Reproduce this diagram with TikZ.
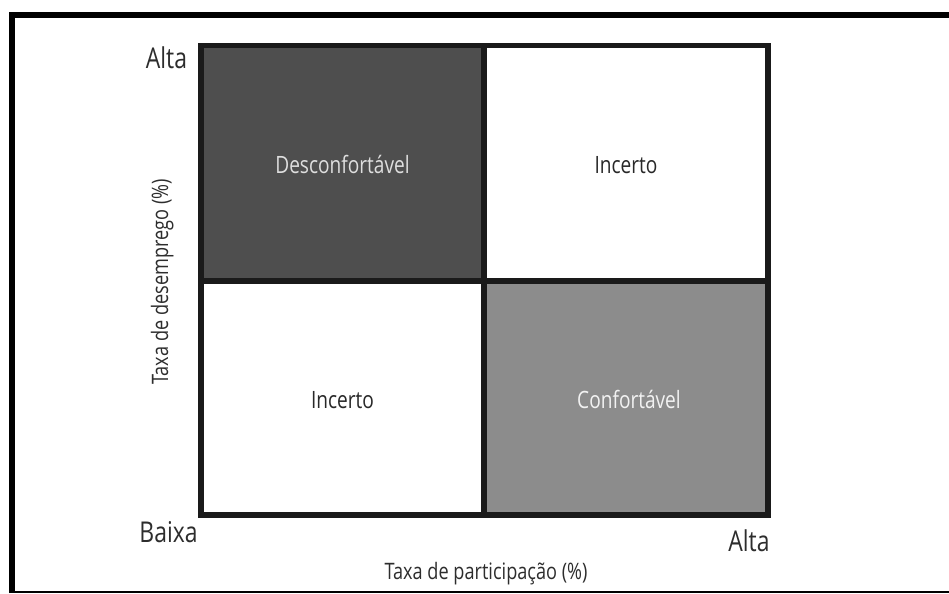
\documentclass[tikz,border=0pt]{standalone}
\usepackage{fontspec}
\setmainfont[FakeStretch=0.8]{Open Sans}
\definecolor{gridgray}{RGB}{26,26,26}
\definecolor{darkcell}{RGB}{78,78,78}
\definecolor{lightcell}{RGB}{140,140,140}
\definecolor{labelgray}{RGB}{45,45,45}
\begin{document}
\begin{tikzpicture}[x=0.75pt,y=0.75pt,yscale=-1,xscale=1,
  frameline/.style={line width=4.5pt,draw=black},
  gridline/.style={line width=4.1pt,draw=gridgray},
  cornerlabel/.style={anchor=base,inner sep=0pt,text=labelgray,font=\fontsize{21.5}{24}\selectfont},
  axislabel/.style={anchor=base,inner sep=0pt,text=labelgray,font=\fontsize{17}{20}\selectfont},
  celllabel/.style={anchor=base,inner sep=0pt,font=\fontsize{17.9}{21}\selectfont}]
\useasboundingbox (0,0) rectangle (949,593);

%Straight Lines (frame)
\draw [frameline]   (12,593) -- (12,15) -- (949,15) ;
\draw [line width=1.2pt]   (9,592.2) -- (949,592.2) ;

%Shape: Rectangle (upper left)
\fill [darkcell]   (201,45.5) rectangle (484,281) ;
%Shape: Rectangle (lower right)
\fill [lightcell]   (484,281) rectangle (768,515) ;

%Shape: Grid
\draw [gridline]   (201,45.5) rectangle (768,515) ;
\draw [gridline]   (484,45.5) -- (484,515) ;
\draw [gridline]   (201,281) -- (768,281) ;

% Text Node
\draw (166.5,68) node [cornerlabel] (altaY) {Alta};
% Text Node
\draw (168.5,542) node [cornerlabel] (baixa) {Baixa};
% Text Node
\draw (749,551) node [cornerlabel] (altaX) {Alta};
% Text Node
\draw (486,579) node [axislabel] (eixoX) {Taxa de participação (\%)};
% Text Node
\draw (168,282) node [axislabel,rotate=90] (eixoY) {Taxa de desemprego (\%)};

% Text Node
\draw (342.5,173) node [celllabel,text={rgb,255:red,222;green,222;blue,222}] (desconf) {Desconfortável};
% Text Node
\draw (626,173) node [celllabel,text={rgb,255:red,40;green,40;blue,40}] (incertoA) {Incerto};
% Text Node
\draw (342.5,408) node [celllabel,text={rgb,255:red,40;green,40;blue,40}] (incertoB) {Incerto};
% Text Node
\draw (629,408) node [celllabel,text={rgb,255:red,242;green,242;blue,242}] (conf) {Confortável};

\end{tikzpicture}
\end{document}
